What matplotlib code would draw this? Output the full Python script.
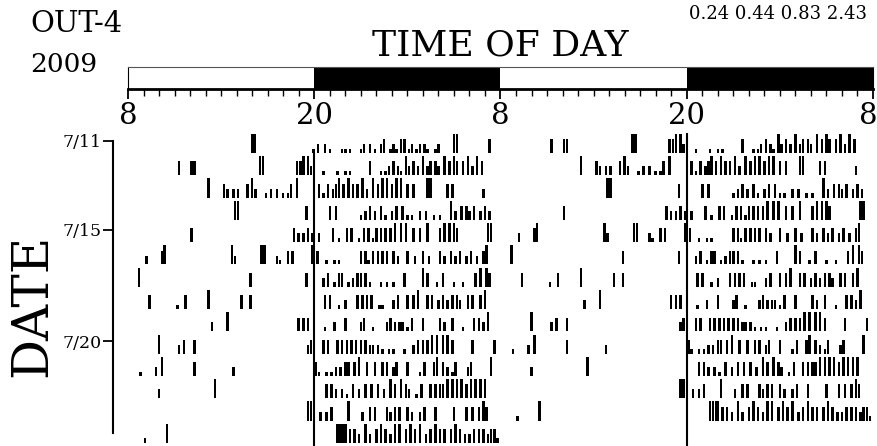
import matplotlib
matplotlib.use("Agg")
import matplotlib.pyplot as plt
from matplotlib.transforms import ScaledTranslation

plt.rcParams['font.family'] = ['DejaVu Serif']

# ---------------- data ----------------
# activity events per day: (hours after 08:00, activity level 1..4)
d11 = [(8.0,4),(8.15,4),(11.95,1),(12.25,2),(12.7,2),(13.0,1),(13.8,1),(14.0,1),(14.3,1),(15.0,1),(15.2,2),(15.6,2),(15.9,1),(16.3,2),(16.5,3),(16.9,1),(17.1,2),(17.3,1),(17.6,3),(17.8,3),(18.1,1),(18.3,2),(18.6,1),(18.8,2),(19.1,2),(19.3,1),(19.8,1),(20.0,2),(21.0,4),(21.2,4),(23.3,3)]
d12 = [(3.3,3),(4.1,3),(4.3,3),(8.5,4),(8.7,4),(10.9,3),(11.1,3),(11.3,4),(11.6,4),(11.8,2),(12.6,1),(13.5,1),(14.0,1),(14.3,1),(15.6,3),(16.3,1),(16.6,1),(16.8,2),(17.1,3),(17.4,2),(17.6,1),(17.9,4),(18.1,2),(18.4,3),(18.7,2),(19.0,4),(19.3,2),(19.5,3),(19.8,3),(20.0,2),(20.4,4),(20.7,3),(21.0,4),(21.2,3),(21.6,3),(21.9,4),(22.2,2),(22.5,4),(22.8,3)]
d13 = [(5.2,4),(6.2,3),(6.4,2),(6.8,2),(7.1,2),(7.7,3),(8.0,4),(8.2,2),(8.9,1),(9.2,2),(9.6,2),(10.0,1),(10.3,1),(10.5,3),(10.9,4),(12.3,3),(12.6,1),(12.9,3),(13.2,2),(13.4,3),(13.6,4),(13.9,3),(14.2,4),(14.5,3),(14.8,3),(15.1,4),(15.4,2),(15.8,4),(16.1,3),(16.4,4),(16.7,4),(17.0,3),(17.3,4),(17.6,4),(18.0,3),(18.4,3),(19.3,4),(19.5,4),(20.6,3),(20.9,3),(22.9,2)]
d14 = [(6.9,4),(7.1,4),(11.5,3),(13.0,3),(13.4,3),(15.0,1),(15.3,2),(15.6,3),(15.9,2),(16.3,3),(16.6,1),(17.0,2),(17.3,3),(17.7,3),(18.0,1),(18.3,1),(18.8,2),(19.2,2),(19.7,1),(20.1,1),(20.8,4),(21.1,2),(21.5,3),(21.8,3),(22.0,2),(22.3,3),(22.7,2),(23.0,3),(23.3,2)]
d15 = [(4.1,3),(10.7,3),(11.0,2),(11.3,2),(11.6,3),(11.9,2),(12.3,2),(13.2,3),(13.6,1),(14.1,3),(14.4,3),(14.9,1),(15.2,3),(15.5,3),(15.8,1),(16.0,3),(16.3,3),(16.6,3),(16.9,3),(17.2,4),(17.6,4),(17.9,4),(18.4,3),(18.8,3),(19.3,4),(20.1,3),(20.4,4),(20.7,4),(21.0,4),(21.2,3),(23.2,4),(23.4,4)]
d16 = [(1.2,2),(2.2,3),(2.35,4),(6.7,4),(6.9,2),(8.6,4),(8.8,4),(9.6,2),(9.8,1),(10.3,3),(10.6,3),(11.9,4),(12.2,3),(12.8,1),(13.3,1),(13.6,1),(15.0,3),(15.3,3),(15.5,1),(15.8,3),(16.1,3),(16.4,3),(16.7,3),(17.1,3),(17.4,2),(18.0,3),(18.5,2),(19.0,3),(19.4,2),(20.1,3),(20.4,2),(20.8,3),(21.1,2),(21.4,3),(21.8,2),(22.1,3),(22.5,2),(22.9,3),(23.1,4)]
d17 = [(0.7,4),(7.9,3),(11.5,3),(12.6,2),(12.9,3),(13.3,1),(13.6,3),(13.8,3),(14.2,1),(14.5,2),(14.8,3),(15.0,3),(15.3,3),(15.6,1),(16.3,1),(16.7,1),(17.1,1),(17.8,3),(19.0,4),(19.3,3),(19.9,1),(20.3,3),(21.0,1),(21.6,1),(22.4,3),(22.7,4),(23.1,4),(23.3,3)]
d18 = [(1.4,3),(3.2,1),(3.7,3),(5.2,4),(7.3,3),(7.9,3),(12.7,3),(13.0,3),(13.6,1),(14.0,2),(14.8,3),(15.1,3),(15.4,3),(15.7,3),(16.2,1),(16.4,1),(17.1,2),(17.4,3),(18.0,3),(18.4,3),(18.7,4),(19.3,3),(19.6,3),(20.0,2),(20.3,3),(20.6,2),(20.9,3),(21.2,3),(21.4,2),(21.9,3),(22.2,3),(22.7,3),(23.0,4)]
d19 = [(5.4,2),(6.4,4),(11.0,3),(11.3,3),(11.6,3),(12.7,1),(13.3,2),(14.0,3),(15.0,2),(15.2,3),(15.8,1),(16.7,2),(16.9,3),(17.2,2),(17.5,2),(17.7,2),(18.0,1),(18.3,3),(19.0,3),(20.1,3),(20.4,2),(20.9,3),(21.6,1),(22.3,3),(22.6,3),(22.9,2),(23.2,4)]
d20 = [(2.0,4),(3.3,2),(3.6,3),(4.3,3),(11.6,2),(11.8,3),(12.6,3),(12.9,3),(13.5,3),(13.8,3),(14.1,3),(14.4,3),(14.7,3),(15.0,3),(15.3,3),(15.6,2),(15.8,2),(16.1,2),(16.4,1),(16.8,1),(17.1,1),(17.8,1),(18.4,2),(18.7,3),(19.0,3),(19.3,3),(19.6,4),(19.9,4),(20.3,4),(20.6,4),(20.9,3),(22.2,3),(23.6,3)]
d21 = [(0.8,1),(1.8,2),(2.2,4),(4.3,3),(6.8,2),(12.1,3),(12.3,1),(12.8,1),(13.1,1),(13.4,2),(13.7,2),(14.0,3),(14.2,3),(14.6,3),(14.9,4),(15.4,3),(15.9,3),(16.4,3),(16.7,3),(17.1,2),(17.3,3),(18.0,3),(18.8,1),(19.1,3),(19.7,3),(19.9,4),(20.3,3),(20.6,2),(20.9,1),(21.1,3),(21.9,2),(22.1,3),(23.4,4)]
d22 = [(2.0,2),(5.6,4),(12.0,2),(12.8,3),(13.1,3),(13.4,2),(13.8,2),(14.1,1),(14.5,3),(14.9,2),(15.3,3),(15.7,3),(16.1,3),(16.5,2),(16.9,4),(17.2,3),(17.6,4),(17.9,3),(18.1,2),(18.6,1),(18.9,3),(19.5,3),(19.8,3),(20.1,3),(20.3,3),(20.6,4),(20.9,4),(21.2,4),(21.5,4),(21.8,3),(22.1,4),(22.4,4),(22.7,4),(23.0,4)]
d23 = [(11.6,4),(11.8,4),(12.4,2),(12.8,2),(13.1,3),(14.2,4),(15.1,2),(15.6,3),(15.9,3),(16.7,3),(16.9,2),(17.2,3),(17.5,3),(18.0,3),(18.3,2),(18.8,2),(19.1,3),(19.8,3),(21.0,3),(21.8,3),(22.2,3),(22.6,3),(22.9,4),(23.1,3)]
d24 = [(1.1,1),(2.5,4),(13.5,4),(13.7,4),(13.9,4),(14.0,4),(14.3,3),(14.6,3),(14.9,2),(15.3,4),(15.6,2),(16.0,3),(16.3,4),(16.6,3),(16.9,2),(17.2,4),(17.5,4),(17.9,3),(18.2,4),(18.5,3),(18.8,4),(19.2,2),(19.5,3),(19.8,4),(20.1,3),(20.4,3),(20.8,3),(21.1,4),(21.4,3),(21.7,2),(22.0,2),(22.3,3),(22.6,3),(22.9,3),(23.2,2),(23.4,3),(23.6,3),(23.8,1)]
d25 = []

days = [d11, d12, d13, d14, d15, d16, d17, d18, d19, d20, d21, d22, d23, d24, d25]
level_height = {1: 0.2, 2: 0.4, 3: 0.62, 4: 0.86}

date_ticks = [0, 4, 9]
date_labels = ['7/11', '7/15', '7/20']

light_segments = [(0, 12), (24, 12)]
dark_segments = [(12, 12), (36, 12)]
hour_tick_pos = [0, 12, 24, 36, 48]
hour_tick_labels = ['8', '20', '8', '20', '8']
scale_values = ['0.24', '0.44', '0.83', '2.43']

# ---------------- figure ----------------
W, H = 878, 446
fig = plt.figure(figsize=(W / 100, H / 100), dpi=100)

def box(l, t, r, b):
    return [l / W, 1 - b / H, (r - l) / W, (b - t) / H]

# main actogram
ax = fig.add_axes(box(113, 125, 873, 446))
ax.set_xlim(-0.966, 48)
ax.set_ylim(14.14, -0.256)

n_rows = 14
for i in range(n_rows):
    base = i + 1
    for half, dd in ((0, days[i]), (24, days[i + 1])):
        if not dd:
            continue
        xs = [t + half for t, lv in dd]
        hs = [-level_height[lv] for t, lv in dd]
        ax.bar(xs, hs, bottom=base, width=0.16, color='black', align='center', linewidth=0)

ax.vlines(12, 1.0, 14.14, color='black', lw=1.5)
ax.vlines(36, 0.1, 14.14, color='black', lw=1.5)

for s in ['top', 'right', 'bottom']:
    ax.spines[s].set_visible(False)
ax.spines['left'].set_linewidth(1.5)
ax.spines['left'].set_bounds(0.45, 13.56)
ax.set_xticks([])
ax.set_yticks([i + 0.45 for i in date_ticks])
ax.set_yticklabels(date_labels, fontsize=12.5)
ax.tick_params(axis='y', length=7, width=1.3, pad=1)

# light/dark bar
axb = fig.add_axes(box(128, 67, 873, 89))
axb.set_xlim(0, 48)
axb.set_ylim(0, 1)
axb.broken_barh(light_segments, (0, 1), facecolor='white', edgecolor='none')
axb.broken_barh(dark_segments, (0, 1), facecolor='black', edgecolor='none')
axb.set_yticks([])
axb.set_xticks(hour_tick_pos)
axb.set_xticklabels(hour_tick_labels, fontsize=21)
axb.set_xticks(range(0, 49), minor=True)
axb.tick_params(axis='x', which='major', length=7, width=1.3, pad=2)
axb.tick_params(axis='x', which='minor', length=5, width=1.0)
axb.spines['bottom'].set_linewidth(2)
axb.spines['top'].set_linewidth(0.8)
axb.spines['top'].set_color('#555555')
axb.spines['left'].set_linewidth(0.8)
axb.spines['right'].set_linewidth(0.8)
last = axb.get_xticklabels()[-1]
last.set_transform(last.get_transform() + ScaledTranslation(-5 / 100, 0, fig.dpi_scale_trans))

# texts
fig.text(30 / W, 1 - 32 / H, 'OUT-4', fontsize=21, ha='left', va='baseline')
fig.text(30 / W, 1 - 72 / H, '2009', fontsize=19, ha='left', va='baseline')
fig.text(500 / W, 1 - 55 / H, 'TIME OF DAY', fontsize=26, ha='center', va='baseline')
fig.text(867 / W, 1 - 19 / H, ' '.join(scale_values), fontsize=13, ha='right', va='baseline')
fig.text(33 / W, 1 - 305 / H, 'DATE', fontsize=36, rotation=90, ha='center', va='center')

fig.savefig('out.png', dpi=100)
